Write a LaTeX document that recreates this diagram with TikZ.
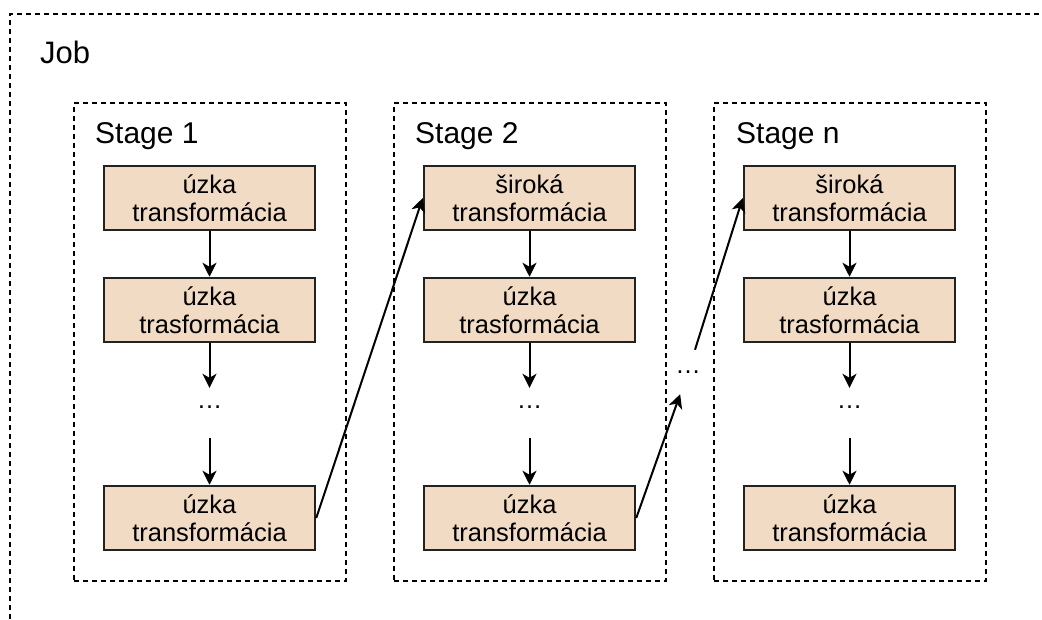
\documentclass[tikz,border=0pt]{standalone}
\usepackage{fontspec}
\setmainfont{Liberation Sans}
\usetikzlibrary{arrows.meta}
\definecolor{peach}{HTML}{F2DBC4}
\definecolor{edge}{HTML}{222222}
\tikzset{
  tbox/.style={draw=edge, line width=2.5pt, fill=peach, minimum width=211pt, minimum height=64pt,
    inner sep=0pt, align=center, font=\fontsize{25.5pt}{28.3pt}\selectfont},
  stagebox/.style={draw=black, line width=2pt, dash pattern=on 5pt off 4pt,
    minimum width=272pt, minimum height=478pt, inner sep=0pt},
  stagelabel/.style={anchor=base west, inner sep=0pt, font=\fontsize{30pt}{34pt}\selectfont},
  vdots/.style={inner sep=0pt, minimum height=50pt, text height=0pt, text depth=10pt,
    font=\fontsize{25.5pt}{28pt}\selectfont},
  mdots/.style={inner sep=0pt, minimum height=44pt, minimum width=24pt, text height=3pt, text depth=0pt,
    font=\fontsize{25.5pt}{28pt}\selectfont},
  conn/.style={line width=2pt, -{Stealth[length=14pt,width=14pt,inset=4pt]}},
}
\begin{document}
\begin{tikzpicture}[x=1pt,y=-1pt]
\useasboundingbox (0,0) rectangle (1042,619);
% outer job box (cut by page edges)
\draw[line width=2pt, dash pattern=on 5pt off 4pt] (10,619) -- (10,14) -- (1042,14);
\node[stagelabel, font=\fontsize{31pt}{34pt}\selectfont] (job) at (40,63) {Job};

% stage boxes
\node[stagebox] (s1) at (210,342) {};
\node[stagebox] (s2) at (530,342) {};
\node[stagebox] (s3) at (850,342) {};
\node[stagelabel] (l1) at (95,143) {Stage 1};
\node[stagelabel] (l2) at (415,143) {Stage 2};
\node[stagelabel] (l3) at (736,143) {Stage n};

% stage 1
\node[tbox] (a1) at (209.5,198) {úzka\\transformácia};
\node[tbox] (a2) at (209.5,310) {úzka\\trasformácia};
\node[vdots] (a3) at (209.5,413) {…};
\node[tbox] (a4) at (209.5,518) {úzka\\transformácia};
% stage 2
\node[tbox] (b1) at (529.5,198) {široká\\transformácia};
\node[tbox] (b2) at (529.5,310) {úzka\\trasformácia};
\node[vdots] (b3) at (529.5,413) {…};
\node[tbox] (b4) at (529.5,518) {úzka\\transformácia};
% stage n
\node[tbox] (c1) at (849.5,198) {široká\\transformácia};
\node[tbox] (c2) at (849.5,310) {úzka\\trasformácia};
\node[vdots] (c3) at (849.5,413) {…};
\node[tbox] (c4) at (849.5,518) {úzka\\transformácia};

% between stages
\node[mdots] (m) at (688,372) {…};

\foreach \s in {a,b,c}{
  \draw[conn] (\s1) -- (\s2);
  \draw[conn] (\s2) -- (\s3);
  \draw[conn] (\s3) -- (\s4);
}
\draw[conn] (a4.east) -- (b1.west);
\draw[conn] (b4.east) -- (m);
\draw[conn] (m) -- (c1.west);
\end{tikzpicture}
\end{document}
